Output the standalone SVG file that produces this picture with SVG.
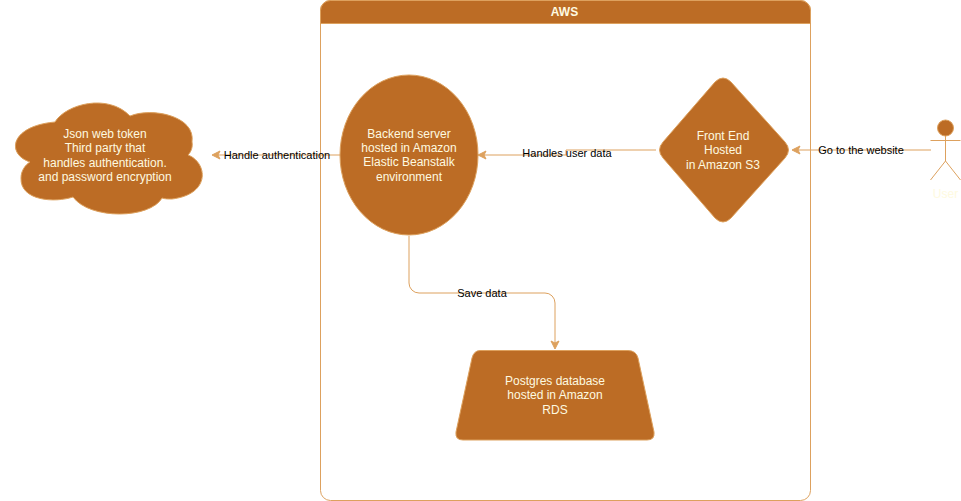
<svg xmlns="http://www.w3.org/2000/svg" width="961" height="501" viewBox="0 0 961 501">
<style>
.n{fill:#bc6c25;stroke:#dda15e;stroke-width:1}
.t{font-family:"Liberation Sans",Arial,sans-serif;font-size:12px;fill:#fefae0;text-anchor:middle}
.l{font-family:"Liberation Sans",Arial,sans-serif;font-size:11px;fill:#000;text-anchor:middle}
.c{fill:none;stroke:#dda15e;stroke-width:1}
.a{fill:#dda15e;stroke:#dda15e}
</style>
<rect width="961" height="501" fill="#fff"/>
<g id="aws">
<rect x="320.500" y="0.500" width="490" height="500" rx="10" fill="#fff" stroke="#dda15e"/>
<path class="n" d="M320.500 23.500V10.500a10 10 0 0 1 10-10H800.500a10 10 0 0 1 10 10V23.500Z"/>
<text class="t" x="564.500" y="16" font-weight="bold">AWS</text>
</g>
<g id="connectors">
<path class="c" d="M931 150H798"/><polygon class="a" points="792,150 800,146 798,150 800,154"/>
<path class="c" d="M656 150H566V155H484"/><polygon class="a" points="478,155 486,151 484,155 486,159"/>
<path class="c" d="M340 155H218"/><polygon class="a" points="212,155 220,151 218,155 220,159"/>
<path class="c" d="M409 236V283a10 10 0 0 0 10 10H545a10 10 0 0 1 10 10V343"/><polygon class="a" points="555,349 551,341 555,343 559,341"/>
</g>
<g id="cloud">
<path class="n" d="M55 122C66 104 108 93 130 116C152 107 196 116 192 142C193 147 191 152 188 155C207 162 212 194 172 199C168 199 165 199 162 198C150 219 90 220 73 197C55 203 20 201 21 178C21 171 25 165 30 162C6 154 10 126 55 122Z"/>
<text class="t" x="105" y="138">Json web token</text>
<text class="t" x="105" y="152">Third party that</text>
<text class="t" x="105" y="167">handles authentication.</text>
<text class="t" x="105" y="181">and password encryption</text>
</g>
<g id="backend">
<ellipse class="n" cx="409" cy="155" rx="69" ry="80"/>
<text class="t" x="409" y="138">Backend server</text>
<text class="t" x="409" y="152">hosted in Amazon</text>
<text class="t" x="409" y="166">Elastic Beanstalk</text>
<text class="t" x="409" y="181">environment</text>
</g>
<g id="frontend">
<path class="n" d="M715 82Q723 74 731 82L785 142Q792 150 785 158L731 218Q723 226 715 218L663 158Q656 150 663 142Z"/>
<text class="t" x="723" y="140">Front End</text>
<text class="t" x="723" y="154">Hosted</text>
<text class="t" x="723" y="169">in Amazon S3</text>
</g>
<g id="database">
<path class="n" d="M480 350.500H628Q636 350.500 638 358L654 432Q655 440 647 440H463Q455 440 456 432L472 358Q474 350.500 480 350.500Z"/>
<text class="t" x="555" y="385">Postgres database</text>
<text class="t" x="555" y="399">hosted in Amazon</text>
<text class="t" x="555" y="414">RDS</text>
</g>
<g id="user">
<circle class="n" cx="945.500" cy="128" r="8"/>
<path class="c" d="M945.500 136V161M930.500 140.500H960.500M945.500 161L930.500 180M945.500 161L960.500 180"/>
<text class="t" x="945.500" y="198">User</text>
</g>
<g id="labels">
<text class="l" x="277" y="159">Handle authentication</text>
<text class="l" x="567" y="157">Handles user data</text>
<text class="l" x="861" y="154">Go to the website</text>
<text class="l" x="482" y="297">Save data</text>
</g>
</svg>
